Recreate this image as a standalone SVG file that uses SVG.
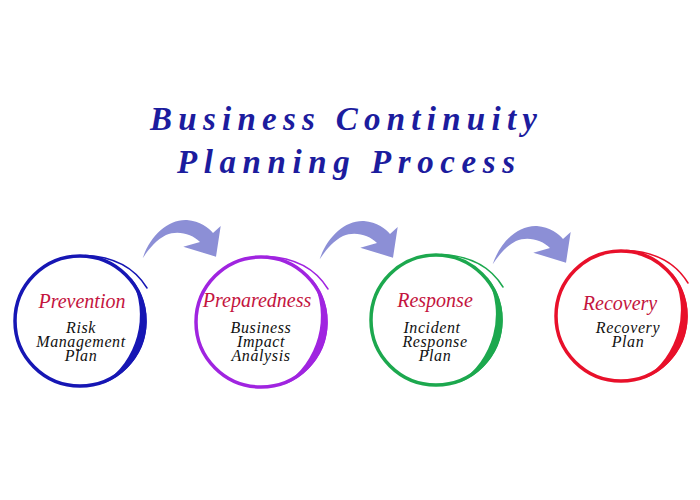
<svg xmlns="http://www.w3.org/2000/svg" xmlns:xlink="http://www.w3.org/1999/xlink" width="700" height="500" viewBox="0 0 700 500">
<defs>
<style>
.title{font-family:"Liberation Serif","Times New Roman",serif;font-style:italic;font-weight:bold;font-size:33px;fill:#1c1c9e}
.head{font-family:"Liberation Serif","Times New Roman",serif;font-style:italic;font-size:20px;fill:#c4143e;text-anchor:middle}
.body{font-family:"Liberation Serif","Times New Roman",serif;font-style:italic;font-size:16px;letter-spacing:0.6px;fill:#111;text-anchor:middle}
.arrow{fill:#8c8fd6}
</style>
<g id="ring">
<circle cx="0" cy="0" r="65" fill="none" stroke="currentColor" stroke-width="3.5"/>
<path d="M51.1,-42.9 A66.75,66.75 0 0 1 22.8,62.7 A82,82 0 0 0 51.1,-42.9 Z" fill="currentColor"/>
<path d="M5,-65.5 Q48,-64 67,-33" fill="none" stroke="currentColor" stroke-width="1.5" stroke-linecap="round"/>
</g>
<path id="arr" d="M142.7,258.3 C150,236 168,219 187,220 C200,221 209,228 213,233 L220.7,226 L216,256.7 L183.3,246.7 L200,242 C192,234 178,230 166,235 C156,240 148,250 142.7,258.3 Z"/>
</defs>
<rect width="700" height="500" fill="#fff"/>
<g id="title">
<text class="title" x="150" y="130" textLength="387" lengthAdjust="spacing">Business Continuity</text>
<text class="title" x="177" y="173" textLength="338" lengthAdjust="spacing">Planning Process</text>
</g>
<g id="connectors">
<use xlink:href="#arr" href="#arr" class="arrow"/>
<use xlink:href="#arr" href="#arr" class="arrow" transform="translate(177,1)"/>
<use xlink:href="#arr" href="#arr" class="arrow" transform="translate(350,6)"/>
</g>
<g id="prevention">
<use xlink:href="#ring" href="#ring" transform="translate(80,321)" style="color:#1616b4"/>
<text class="head" x="82" y="308">Prevention</text>
<text class="body" x="81" y="333">Risk</text>
<text class="body" x="81" y="347">Management</text>
<text class="body" x="81" y="361">Plan</text>
</g>
<g id="preparedness">
<use xlink:href="#ring" href="#ring" transform="translate(261,322)" style="color:#a024e0"/>
<text class="head" x="257" y="307">Preparedness</text>
<text class="body" x="261" y="333">Business</text>
<text class="body" x="261" y="347">Impact</text>
<text class="body" x="261" y="361">Analysis</text>
</g>
<g id="response">
<use xlink:href="#ring" href="#ring" transform="translate(436,320)" style="color:#1ca84e"/>
<text class="head" x="435" y="307">Response</text>
<text class="body" x="432" y="333">Incident</text>
<text class="body" x="435" y="347">Response</text>
<text class="body" x="435" y="361">Plan</text>
</g>
<g id="recovery">
<use xlink:href="#ring" href="#ring" transform="translate(621,316)" style="color:#e8102a"/>
<text class="head" x="620" y="310">Recovery</text>
<text class="body" x="628" y="333">Recovery</text>
<text class="body" x="628" y="347">Plan</text>
</g>
</svg>
